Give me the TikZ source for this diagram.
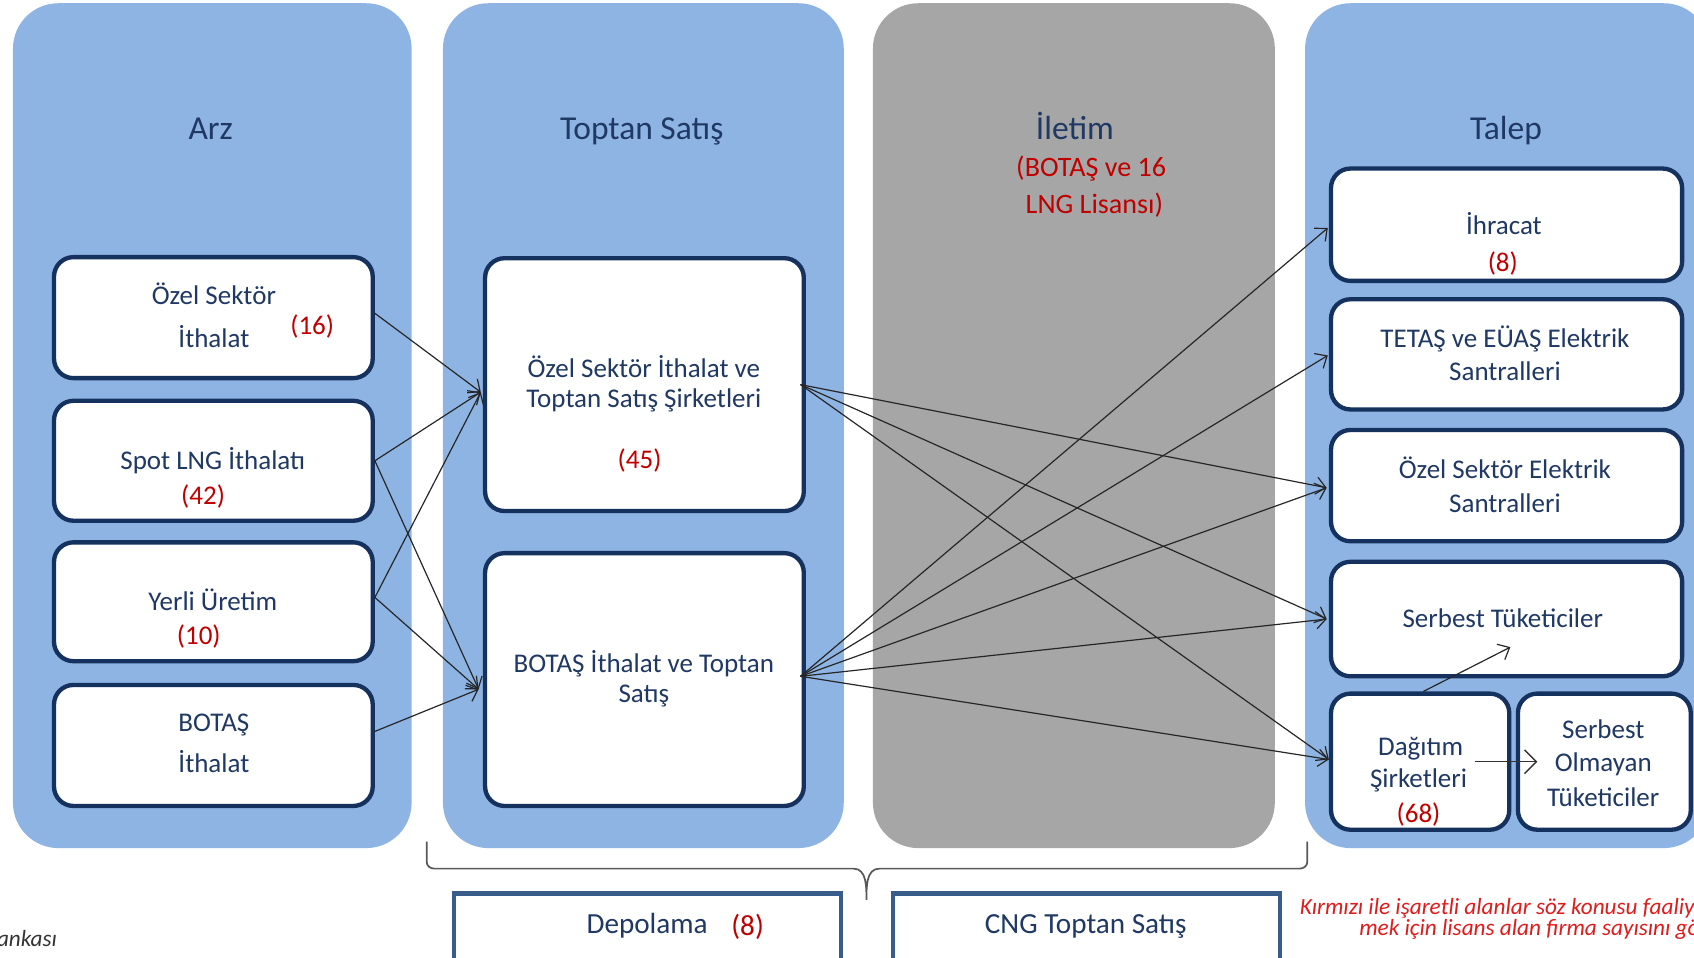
\documentclass[tikz,border=0pt]{standalone}
\usepackage{fontspec}
\setmainfont{Carlito}
\usetikzlibrary{arrows.meta}
\definecolor{colblue}{HTML}{8EB4E3}
\definecolor{colgray}{HTML}{A6A6A6}
\definecolor{navy}{HTML}{15315E}
\definecolor{txtblue}{HTML}{1F3864}
\definecolor{numred}{HTML}{C00000}
\definecolor{notered}{HTML}{E01B1B}
\definecolor{bracegray}{HTML}{595959}
\definecolor{boxblue}{HTML}{385D8A}
\begin{document}
\begin{tikzpicture}[x=1pt,y=-1pt,
  colbox/.style={rounded corners=42pt, draw=none},
  wbox/.style={draw=navy, line width=4pt, fill=white, rounded corners=18pt, inner sep=0pt},
  sbox/.style={draw=boxblue, line width=4pt, fill=white, inner sep=0pt},
  txt/.style={inner sep=0pt, yshift=-6pt, text height=0.64em, text depth=0pt, text=txtblue, font=\fontsize{25}{30}\selectfont},
  ttl/.style={txt, yshift=-1pt, font=\fontsize{31}{36}\selectfont},
  num/.style={txt, text=numred},
  note/.style={inner sep=0pt, yshift=-5pt, text height=0.64em, text depth=0pt, text=notered, font=\fontsize{21.5}{24}\selectfont\itshape},
  flow/.style={draw=black!85, line width=1.1pt, -{Straight Barb[length=9pt,width=16pt]}},
  bigflow/.style={draw=black!80, line width=1.3pt, -{Straight Barb[length=11pt,width=22pt]}},
]
\clip (0,0) rectangle (1568,886);
\fill[white] (0,0) rectangle (1568,886);

% columns
\fill[colbox, fill=colblue] (12,3) rectangle (381,785);
\fill[colbox, fill=colblue] (410,3) rectangle (781,785);
\fill[colbox, fill=colgray] (808,3) rectangle (1180,785);
\fill[colbox, fill=colblue] (1208,3) rectangle (1582,785);

% titles
\node[ttl] (tarz) at (195,119) {Arz};
\node[ttl] (ttop) at (594,119) {Toptan Satış};
\node[ttl] (tilet) at (995,119) {İletim};
\node[num, font=\fontsize{26}{30}\selectfont] (tilet1) at (1010,154) {(BOTAŞ ve 16};
\node[num, font=\fontsize{26}{30}\selectfont] (tilet2) at (1013,188) {LNG Lisansı)};
\node[ttl] (ttal) at (1394,119) {Talep};

% Arz boxes
\node[wbox, minimum width=295pt, minimum height=112pt] (ozith) at (197.5,294) {};
\node[wbox, minimum width=295pt, minimum height=111pt] (spot) at (197.5,426.5) {};
\node[wbox, minimum width=295pt, minimum height=110pt] (yerli) at (197.5,557) {};
\node[wbox, minimum width=295pt, minimum height=112pt] (botith) at (197.5,690) {};

\node[txt] (t1a) at (198,273) {Özel Sektör};
\node[txt] (t1b) at (198,312) {İthalat};
\node[num] (n1) at (289,300) {(16)};
\node[txt] (t2a) at (197,425) {Spot LNG İthalatı};
\node[num] (n2) at (188,458) {(42)};
\node[txt] (t3a) at (197,556) {Yerli Üretim};
\node[num] (n3) at (184,587) {(10)};
\node[txt] (t4a) at (198,668) {BOTAŞ};
\node[txt] (t4b) at (198,706) {İthalat};

% Toptan boxes
\node[wbox, minimum width=295pt, minimum height=234pt] (oztop) at (596.5,356) {};
\node[wbox, minimum width=295pt, minimum height=234pt] (bottop) at (596.5,629) {};
\node[txt] (t5a) at (596,340) {Özel Sektör İthalat ve};
\node[txt] (t5b) at (596,368) {Toptan Satış Şirketleri};
\node[num] (n5) at (592,424) {(45)};
\node[txt] (t6a) at (596,613) {BOTAŞ İthalat ve Toptan};
\node[txt] (t6b) at (596,641) {Satış};

% Talep boxes
\node[wbox, minimum width=325pt, minimum height=104pt] (ihr) at (1394.5,208) {};
\node[wbox, minimum width=325pt, minimum height=102pt] (tetas) at (1394.5,328) {};
\node[wbox, minimum width=325pt, minimum height=103pt] (ozel) at (1394.5,449.5) {};
\node[wbox, minimum width=325pt, minimum height=106pt] (serb) at (1394.5,573) {};
\node[wbox, minimum width=165pt, minimum height=126pt] (dag) at (1314.5,705) {};
\node[wbox, minimum width=160pt, minimum height=126pt] (serol) at (1485,705) {};

\node[txt] (t7a) at (1392,208) {İhracat};
\node[num] (n7) at (1391,242) {(8)};
\node[txt] (t8a) at (1393,312) {TETAŞ ve EÜAŞ Elektrik};
\node[txt] (t8b) at (1393,343) {Santralleri};
\node[txt] (t9a) at (1393,434) {Özel Sektör Elektrik};
\node[txt] (t9b) at (1393,465) {Santralleri};
\node[txt] (t10a) at (1391,572) {Serbest Tüketiciler};
\node[txt] (t11a) at (1315,690) {Dağıtım};
\node[txt] (t11b) at (1313,720) {Şirketleri};
\node[num] (n11) at (1313,752) {(68)};
\node[txt] (t12a) at (1484,674) {Serbest};
\node[txt] (t12b) at (1484,705) {Olmayan};
\node[txt] (t12c) at (1484,737) {Tüketiciler};

% flows Arz -> Toptan
\draw[flow] ([yshift=4pt]ozith.east) -- ([yshift=-7pt,xshift=-2pt]oztop.west);
\draw[flow] (spot.east) -- ([yshift=-7pt,xshift=-2pt]oztop.west);
\draw[flow] (spot.east) -- ([yshift=-9pt,xshift=-4pt]bottop.west);
\draw[flow] ([yshift=4pt]yerli.east) -- ([yshift=-7pt,xshift=-2pt]oztop.west);
\draw[flow] ([yshift=4pt]yerli.east) -- ([yshift=-9pt,xshift=-4pt]bottop.west);
\draw[flow] ([yshift=13pt]botith.east) -- ([yshift=-9pt,xshift=-4pt]bottop.west);

% flows Toptan -> Talep
\draw[flow] ([xshift=-5pt]oztop.east) -- ([yshift=-2pt,xshift=-2pt]ozel.west);
\draw[flow] ([xshift=-5pt]oztop.east) -- ([xshift=-2pt]serb.west);
\draw[flow] ([xshift=-5pt]oztop.east) -- ([yshift=2pt]dag.west);
\draw[flow] ([xshift=-5pt,yshift=3pt]bottop.east) -- ([yshift=-3pt,xshift=-1pt]ihr.west);
\draw[flow] ([xshift=-5pt,yshift=3pt]bottop.east) -- ([yshift=-1pt,xshift=-1pt]tetas.west);
\draw[flow] ([xshift=-5pt,yshift=3pt]bottop.east) -- ([yshift=-2pt,xshift=-2pt]ozel.west);
\draw[flow] ([xshift=-5pt,yshift=3pt]bottop.east) -- ([xshift=-2pt]serb.west);
\draw[flow] ([xshift=-5pt,yshift=3pt]bottop.east) -- ([yshift=2pt]dag.west);

% internal Talep flows
\coordinate (serbin) at (1398,599);
\draw[flow] ([xshift=3pt]dag.north) -- (serbin);
\draw[bigflow] ([xshift=-34pt]dag.east) -- ([xshift=20pt]serol.west);

% brace
\draw[bracegray, line width=1.6pt]
  (395,779) -- (395,798) to[out=-90,in=180] (402,804) -- (790,804)
  to[out=0,in=90] (802,833) to[out=90,in=180] (814,804) -- (1203,804)
  to[out=0,in=-90] (1210,798) -- (1210,779);

% bottom boxes
\node[sbox, minimum width=358pt, minimum height=70pt] (depo) at (599.5,862) {};
\node[sbox, minimum width=358pt, minimum height=70pt] (cng) at (1005.5,862) {};
\node[txt, font=\fontsize{27}{30}\selectfont] (tdep) at (599,855) {Depolama};
\node[num, font=\fontsize{27}{30}\selectfont] (ndep) at (692,857) {(8)};
\node[txt, font=\fontsize{27}{30}\selectfont] (tcng) at (1005,855) {CNG Toptan Satış};

% notes
\node[note, anchor=west] (note1) at (1203,838) {Kırmızı ile işaretli alanlar söz konusu faaliyeti yürüt-};
\node[note, anchor=west] (note2) at (1258,858) {mek için lisans alan firma sayısını gösterir.};
\node[note, anchor=east, text=black!80] (src) at (53,868) {ankası};
\end{tikzpicture}
\end{document}
